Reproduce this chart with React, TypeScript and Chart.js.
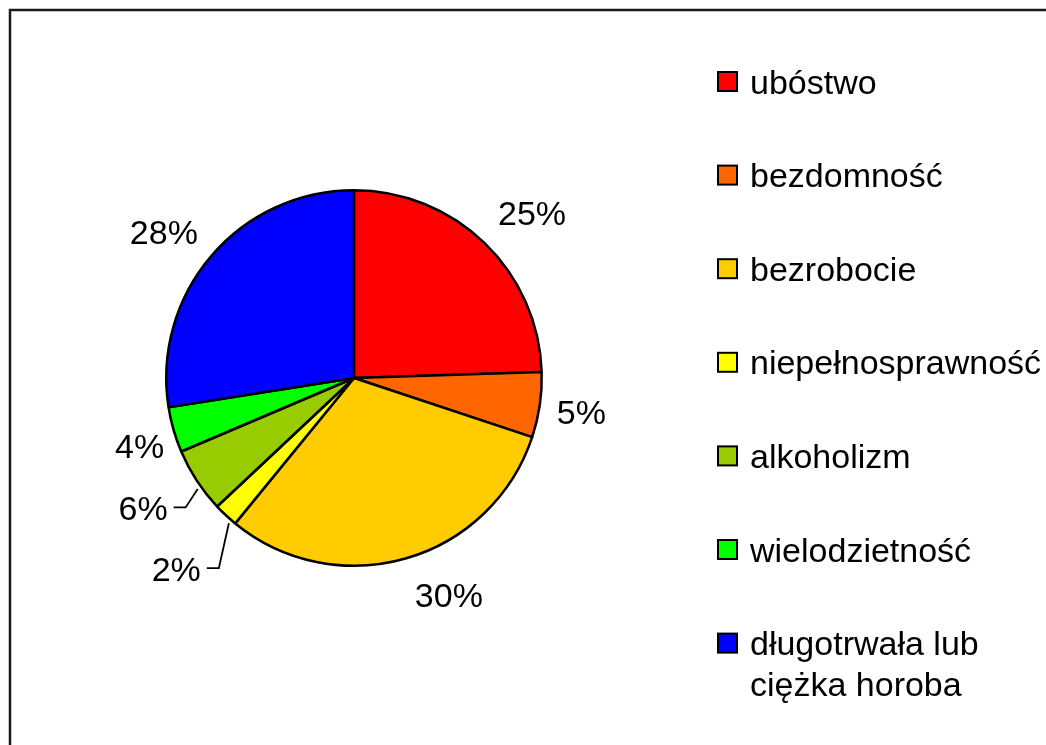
import React, { useEffect, useRef } from "react";
import { Chart, registerables } from "chart.js";

Chart.register(...registerables);

const categories = [
  "ubóstwo",
  "bezdomność",
  "bezrobocie",
  "niepełnosprawność",
  "alkoholizm",
  "wielodzietność",
  "długotrwała lub\nciężka horoba",
];
const values = [24.5, 5.6, 30.8, 2.1, 5.6, 3.9, 27.5];
const valueLabels = ["25%", "5%", "30%", "2%", "6%", "4%", "28%"];
const colors = ["#FF0000", "#FF6600", "#FFCC00", "#FFFF00", "#99CC00", "#00FF00", "#0000FF"];

// label placement (angle shift from slice middle in degrees, distance from centre in px, leader line)
const labelShift = [3.0, 0.3, -7.4, -0.1, 1.4, -1.6, -2.9];
const labelDist = [243, 230, 237, 261, 248, 225, 240];
const labelLeader = [false, false, false, true, true, false, false];

const FONT = '34px "Liberation Sans", Arial, sans-serif';

const overlayPlugin = {
  id: "overlay",
  afterDraw(chart: any) {
    const ctx = chart.ctx as CanvasRenderingContext2D;
    const meta = chart.getDatasetMeta(0);
    ctx.save();
    // frame
    ctx.strokeStyle = "#1a1a1a";
    ctx.lineWidth = 2.5;
    ctx.strokeRect(10, 10, 1200, 900);

    ctx.font = FONT;
    ctx.fillStyle = "#000";
    ctx.textBaseline = "alphabetic";
    meta.data.forEach((arc: any, i: number) => {
      const { x, y, startAngle, endAngle, outerRadius } = arc.getProps(
        ["x", "y", "startAngle", "endAngle", "outerRadius"],
        true
      );
      const mid = (startAngle + endAngle) / 2;
      const a = mid + (labelShift[i] * Math.PI) / 180;
      const lx = x + Math.cos(a) * labelDist[i];
      const ly = y + Math.sin(a) * labelDist[i];
      const text = valueLabels[i];
      const w = ctx.measureText(text).width;
      ctx.textAlign = "center";
      ctx.fillText(text, lx, ly + 12);
      if (labelLeader[i]) {
        const right = lx + w / 2;
        const sx = x + Math.cos(mid - 0.04) * (outerRadius + 4);
        const sy = y + Math.sin(mid - 0.04) * (outerRadius + 4);
        ctx.beginPath();
        ctx.strokeStyle = "#000";
        ctx.lineWidth = 1.8;
        ctx.moveTo(sx, sy);
        ctx.lineTo(right + 18, ly - 1);
        ctx.lineTo(right + 6, ly - 1);
        ctx.stroke();
      }
    });

    // legend
    const bx = 718;
    const firstY = 81.5;
    const step = 93.6;
    ctx.textAlign = "left";
    chart.data.labels.forEach((lab: string, i: number) => {
      const cy = firstY + i * step;
      ctx.fillStyle = colors[i];
      ctx.fillRect(bx, cy - 9.5, 19, 19);
      ctx.strokeStyle = "#000";
      ctx.lineWidth = 2;
      ctx.strokeRect(bx, cy - 9.5, 19, 19);
      ctx.fillStyle = "#000";
      const lines = lab.split("\n");
      lines.forEach((ln, j) => {
        ctx.fillText(ln, 750, cy + 12 + j * 41);
      });
    });
    ctx.restore();
  },
};

export default function App() {
  const ref = useRef<HTMLCanvasElement>(null);
  useEffect(() => {
    if (!ref.current) return;
    const chart = new Chart(ref.current, {
      type: "pie",
      data: {
        labels: categories,
        datasets: [
          {
            data: values,
            backgroundColor: colors,
            borderColor: "#000",
            borderWidth: 2.5,
            hoverBorderWidth: 2.5,
          },
        ],
      },
      options: {
        responsive: false,
        animation: false,
        events: [],
        layout: { padding: { left: 165, right: 503, top: 189, bottom: 178 } },
        plugins: {
          legend: { display: false },
          tooltip: { enabled: false },
        },
      },
      plugins: [overlayPlugin],
    });
    return () => chart.destroy();
  }, []);
  return (
    <div style={{ position: "absolute", left: 0, top: 0, width: 1046, height: 745, background: "#fff" }}>
      <canvas ref={ref} width={1046} height={745} />
    </div>
  );
}
